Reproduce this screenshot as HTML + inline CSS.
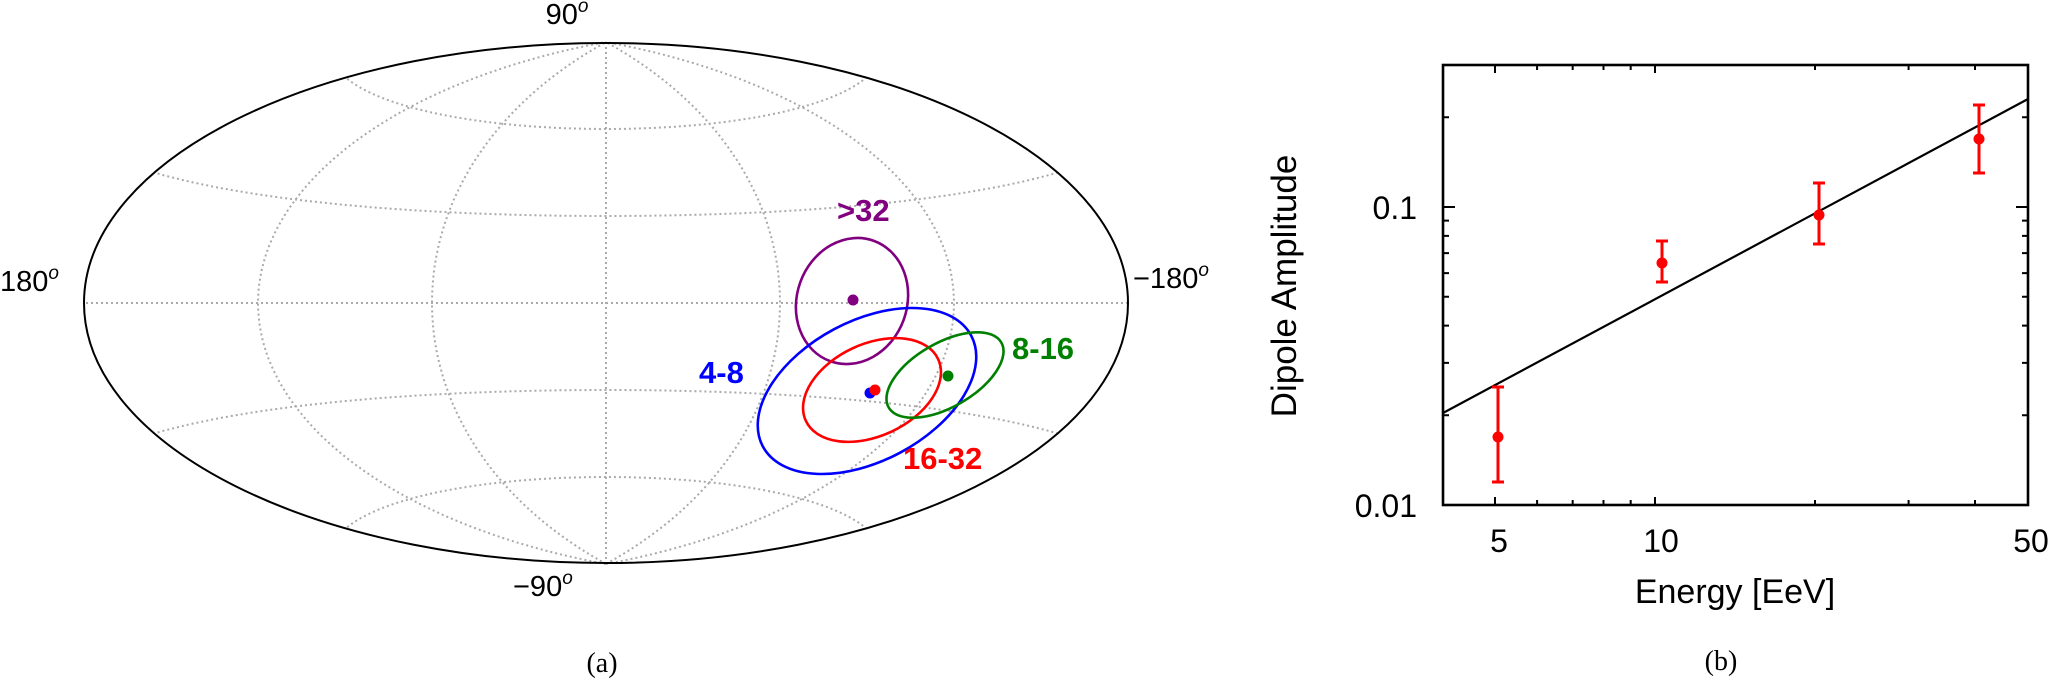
<!DOCTYPE html>
<html><head><meta charset="utf-8">
<style>
html,body{margin:0;padding:0;background:#fff;}
svg{display:block;}
text{font-family:"Liberation Sans",sans-serif;}
.dv{font-family:"DejaVu Sans","Liberation Sans",sans-serif;}
.sf{font-family:"Liberation Serif",serif;}
</style></head>
<body>
<svg id="s" width="2050" height="679" viewBox="0 0 2050 679" xmlns="http://www.w3.org/2000/svg">
<g id="grid" fill="none" stroke="#aaaaaa" stroke-width="2" stroke-dasharray="2 3"></g>
<ellipse cx="606" cy="303" rx="522" ry="260" fill="none" stroke="#000" stroke-width="2"/>

<g fill="none" stroke-width="2.6">
<ellipse cx="852" cy="301" rx="64" ry="55" transform="rotate(-70 852 301)" stroke="#800080"/>
<ellipse cx="867" cy="391" rx="118" ry="70" transform="rotate(-28 867 391)" stroke="#0000ff"/>
<ellipse cx="872" cy="390" rx="73" ry="46" transform="rotate(-25 872 390)" stroke="#ff0000"/>
<ellipse cx="945" cy="375" rx="65" ry="32" transform="rotate(-30 945 375)" stroke="#008000"/>
</g>
<circle cx="853" cy="300" r="5.5" fill="#800080"/>
<circle cx="870" cy="393" r="5.5" fill="#0000ff"/>
<circle cx="875" cy="390" r="5.5" fill="#ff0000"/>
<circle cx="948" cy="376" r="5.5" fill="#008000"/>

<g class="dv" font-weight="bold" font-size="31">
<text x="837" y="221" fill="#800080">&gt;32</text>
<text x="699" y="383" fill="#0000ff">4-8</text>
<text x="1012" y="359" fill="#008000">8-16</text>
<text x="903" y="469" fill="#ff0000">16-32</text>
</g>

<g class="dv" font-size="29" fill="#000">
<text x="567" y="24" text-anchor="middle">90<tspan font-size="19" font-style="italic" dy="-12">o</tspan></text>
<text x="0" y="291">180<tspan font-size="19" font-style="italic" dy="-12">o</tspan></text>
<text x="1133" y="288">−180<tspan font-size="19" font-style="italic" dy="-12">o</tspan></text>
<text x="513" y="596">−90<tspan font-size="19" font-style="italic" dy="-12">o</tspan></text>
</g>
<text class="sf" x="602" y="672" font-size="28" text-anchor="middle">(a)</text>

<g id="ticks" stroke="#000" stroke-width="2"></g>
<rect x="1443" y="65" width="585" height="440" fill="none" stroke="#000" stroke-width="2.6"/>
<line x1="1443" y1="413" x2="2028" y2="99" stroke="#000" stroke-width="2.2"/>
<g stroke="#ff0000" stroke-width="3" fill="#ff0000">
<line x1="1498" y1="387" x2="1498" y2="482"/><line x1="1492" y1="387" x2="1504" y2="387"/><line x1="1492" y1="482" x2="1504" y2="482"/>
<circle cx="1498" cy="437" r="5.5" stroke="none"/>
<line x1="1662" y1="241" x2="1662" y2="282"/><line x1="1656" y1="241" x2="1668" y2="241"/><line x1="1656" y1="282" x2="1668" y2="282"/>
<circle cx="1662" cy="263" r="5.5" stroke="none"/>
<line x1="1819" y1="183" x2="1819" y2="244"/><line x1="1813" y1="183" x2="1825" y2="183"/><line x1="1813" y1="244" x2="1825" y2="244"/>
<circle cx="1819" cy="215" r="5.5" stroke="none"/>
<line x1="1979" y1="105" x2="1979" y2="173"/><line x1="1973" y1="105" x2="1985" y2="105"/><line x1="1973" y1="173" x2="1985" y2="173"/>
<circle cx="1979" cy="139" r="5.5" stroke="none"/>
</g>
<g font-size="32" fill="#000">
<text x="1417" y="219" text-anchor="end">0.1</text>
<text x="1417" y="517" text-anchor="end">0.01</text>
<text x="1499" y="552" text-anchor="middle">5</text>
<text x="1661" y="552" text-anchor="middle">10</text>
<text x="2031" y="552" text-anchor="middle">50</text>
<text x="1735" y="603" text-anchor="middle" font-size="34">Energy [EeV]</text>
<text x="0" y="0" font-size="35" text-anchor="middle" transform="translate(1296 286) rotate(-90)">Dipole Amplitude</text>
</g>
<text class="sf" x="1721" y="670" font-size="28" text-anchor="middle">(b)</text>
</svg>
<script>
(function(){
var NS="http://www.w3.org/2000/svg";
var cx=606,cy=303,A=522,B=261;
function proj(lon,lat){
 var l=lon*Math.PI/180,p=lat*Math.PI/180;
 var al=Math.acos(Math.cos(p)*Math.cos(l/2));
 var s=al<1e-9?1:Math.sin(al)/al;
 var x=2*Math.cos(p)*Math.sin(l/2)/s, y=Math.sin(p)/s;
 return [cx-x*A/Math.PI, cy-y*B/(Math.PI/2)];
}
var g=document.getElementById('grid'),d="";
[-60,-30,0,30,60].forEach(function(lat){
 for(var lo=-180;lo<=180;lo+=2){var q=proj(lo,lat);d+=(lo==-180?"M":"L")+q[0].toFixed(1)+" "+q[1].toFixed(1);}
});
[-120,-60,0,60,120].forEach(function(lon){
 for(var la=-90;la<=90;la+=2){var q=proj(lon,la);d+=(la==-90?"M":"L")+q[0].toFixed(1)+" "+q[1].toFixed(1);}
});
var p=document.createElementNS(NS,'path');p.setAttribute('d',d);g.appendChild(p);
var t=document.getElementById('ticks'),td="";
var X0=1443,X1=2028,Y0=505,Y1=65;
function xp(e){return 1655+Math.log10(e/10)*531.5;}
function yp(v){return 505-Math.log10(v/0.01)*298;}
[5,6,7,8,9,10,20,30,40].forEach(function(e){
 var x=xp(e),L=(e==5||e==10)?8:5;
 td+="M"+x+" "+Y0+"v"+(-L)+"M"+x+" "+Y1+"v"+L;
});
[0.01,0.02,0.03,0.04,0.05,0.06,0.07,0.08,0.09,0.1,0.2].forEach(function(v){
 var y=yp(v),L=(v==0.01||v==0.1)?12:6;
 td+="M"+X0+" "+y+"h"+L+"M"+X1+" "+y+"h"+(-L);
});
var pt=document.createElementNS(NS,'path');pt.setAttribute('d',td);t.appendChild(pt);
})();
</script>
</body></html>
